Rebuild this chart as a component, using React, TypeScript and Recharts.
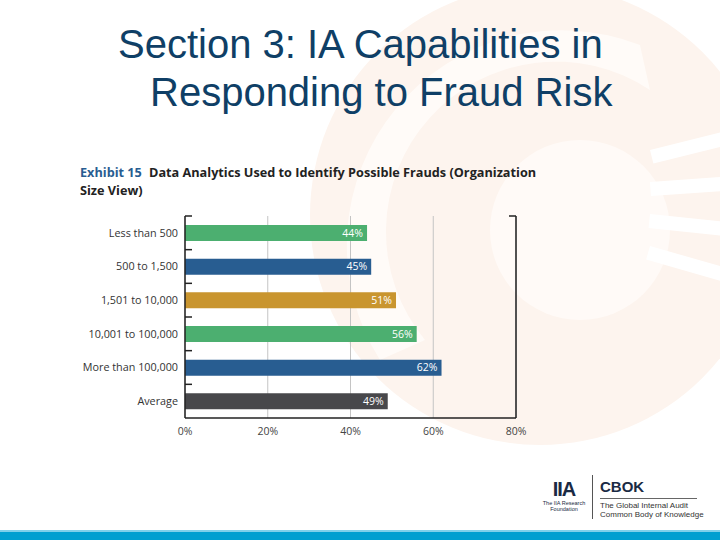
import React from 'react';
import * as R from 'recharts';
import { BarChart, Bar, XAxis, YAxis, CartesianGrid, Cell, LabelList } from 'recharts';

const categories = ['Less than 500', '500 to 1,500', '1,501 to 10,000', '10,001 to 100,000', 'More than 100,000', 'Average'];
const values = [44, 45, 51, 56, 62, 49];
const barColors = ['#4caf70', '#285d91', '#c9952f', '#4caf70', '#285d91', '#48484b'];
const xTicks = [0, 20, 40, 60, 80];

const data = categories.map((name, i) => ({ name, value: values[i], color: barColors[i] }));

const FONT = '"Open Sans", "Noto Sans", sans-serif';

// short ticks on the left axis between the bands, and the bracket on the right
const Frame = () => {
  const anyR = R as any;
  const plot = anyR.usePlotArea ? anyR.usePlotArea() : null;
  if (!plot) return null;
  const band = plot.height / categories.length;
  const ticks = categories.map((_, i) => plot.y + i * band);
  const right = plot.x + plot.width;
  return (
    <g>
      {ticks.map((y, i) => (
        <line key={i} x1={plot.x} x2={plot.x + 7} y1={y} y2={y} stroke="#222" strokeWidth={1.5} />
      ))}
      <line x1={right} x2={right} y1={plot.y} y2={plot.y + plot.height} stroke="#222" strokeWidth={1.5} />
      <line x1={right - 7} x2={right} y1={plot.y} y2={plot.y} stroke="#222" strokeWidth={1.5} />
    </g>
  );
};

const Watermark = () => (
  <svg width={720} height={540} style={{ position: 'absolute', left: 0, top: 0 }}>
    <circle cx={540} cy={215} r={230} fill="#fdf4ee" />
    <path d="M 380 360 A 215 215 0 0 1 640 45 L 650 90 A 170 170 0 0 0 425 340 Z" fill="#fffbf8" />
    <circle cx={580} cy={230} r={90} fill="#fffaf7" />
    {[0, 1, 2, 3].map((i) => (
      <rect key={i} x={650} y={150 + i * 32} width={90} height={14} fill="#ffffff" transform={`rotate(${-14 + i * 10} 650 ${150 + i * 32})`} />
    ))}
  </svg>
);

const headStyle: React.CSSProperties = {
  position: 'absolute',
  fontFamily: FONT,
  fontWeight: 700,
  fontSize: 12.7,
  color: '#222',
  lineHeight: '18px',
  whiteSpace: 'nowrap',
};

export default function App() {
  return (
    <div style={{ position: 'absolute', left: 0, top: 0, width: 720, height: 540, background: '#fff', overflow: 'hidden' }}>
      <Watermark />
      <div style={{ position: 'absolute', left: 118, top: 20, fontFamily: '"Liberation Sans", Arial, sans-serif', fontSize: 40, color: '#0f3f66', lineHeight: '48px', whiteSpace: 'nowrap' }}>
        Section 3: IA Capabilities in
      </div>
      <div style={{ position: 'absolute', left: 150, top: 68, fontFamily: '"Liberation Sans", Arial, sans-serif', fontSize: 40, color: '#0f3f66', lineHeight: '48px', whiteSpace: 'nowrap' }}>
        Responding to Fraud Risk
      </div>
      <div style={{ ...headStyle, left: 80, top: 163, color: '#285d91' }}>Exhibit 15</div>
      <div style={{ ...headStyle, left: 149, top: 163 }}>Data Analytics Used to Identify Possible Frauds (Organization</div>
      <div style={{ ...headStyle, left: 80, top: 181 }}>Size View)</div>

      <div style={{ position: 'absolute', left: 0, top: 200 }}>
        <BarChart
          width={560}
          height={250}
          layout="vertical"
          data={data}
          margin={{ top: 16, right: 44, left: 0, bottom: 0 }}
          barCategoryGap={0}
        >
          <CartesianGrid vertical horizontal={false} stroke="#c4c4c4" />
          <XAxis
            type="number"
            domain={[0, 80]}
            ticks={xTicks}
            tickFormatter={(v: number) => `${v}%`}
            height={32}
            axisLine={{ stroke: '#222', strokeWidth: 1.5 }}
            tickLine={false}
            tick={{ fontSize: 10.5, fill: '#444', fontFamily: FONT }}
            tickMargin={4}
          />
          <YAxis
            type="category"
            dataKey="name"
            width={185}
            axisLine={{ stroke: '#222', strokeWidth: 1.5 }}
            tickLine={false}
            tick={{ fontSize: 10.8, fill: '#333', fontFamily: FONT }}
            tickMargin={1}
          />
          <Bar dataKey="value" barSize={16} isAnimationActive={false}>
            {data.map((d, i) => (
              <Cell key={`cell-${i}`} fill={d.color} />
            ))}
            <LabelList
              dataKey="value"
              position="insideRight"
              offset={4}
              formatter={(v: any) => `${v}%`}
              style={{ fill: '#fff', fontSize: 10.5, fontFamily: FONT }}
            />
          </Bar>
          <Frame />
        </BarChart>
      </div>

      {/* footer logos */}
      <div style={{ position: 'absolute', left: 540, top: 478, width: 48, textAlign: 'center', fontFamily: '"Liberation Sans", Arial, sans-serif', color: '#1a2a44' }}>
        <div style={{ fontSize: 20, fontWeight: 700, lineHeight: '22px', letterSpacing: -1 }}>IIA</div>
        <div style={{ fontSize: 5.5, lineHeight: '6px' }}>The IIA Research</div>
        <div style={{ fontSize: 5.5, lineHeight: '6px' }}>Foundation</div>
      </div>
      <div style={{ position: 'absolute', left: 592, top: 475, width: 1, height: 44, background: '#555' }} />
      <div style={{ position: 'absolute', left: 600, top: 478, fontFamily: '"Liberation Sans", Arial, sans-serif', color: '#1a2a44' }}>
        <div style={{ fontSize: 15, fontWeight: 700, lineHeight: '18px' }}>CBOK</div>
        <div style={{ width: 97, height: 1, background: '#666', margin: '2px 0 2px' }} />
        <div style={{ fontSize: 8, lineHeight: '9px', color: '#333' }}>The Global Internal Audit</div>
        <div style={{ fontSize: 8, lineHeight: '9px', color: '#333' }}>Common Body of Knowledge</div>
      </div>
      <div style={{ position: 'absolute', left: 0, top: 530, width: 720, height: 2, background: '#7fd0ea' }} />
      <div style={{ position: 'absolute', left: 0, top: 532, width: 720, height: 8, background: '#009fd0' }} />
    </div>
  );
}
